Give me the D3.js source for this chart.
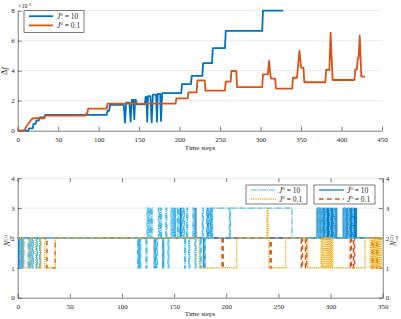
<!DOCTYPE html>
<html><head><meta charset="utf-8">
<script src="https://cdn.jsdelivr.net/npm/d3@7"></script>
<style>
body{margin:0;background:#fff}
svg{display:block}
text{font-family:"Liberation Serif","DejaVu Serif",serif;fill:#262626}
</style></head><body>
<svg id="c" width="401" height="319"></svg>
<script>
// ---------- DATA ----------
const topXTicks = [0,50,100,150,200,250,300,350,400,450];
const topYTicks = [0,2,4,6,8];
const botXTicks = [0,50,100,150,200,250,300,350];
const botYTicks = [0,1,2,3,4];
const legendLabels = ["10","0.1"];

// Top chart: [time step, Δf ×1e-3]
const deltaF_J10 = [[0,0],[13,0],[14,0.16],[18.5,0.16],[19.5,0.45],[22,0.45],[23,0.67],[26,0.67],[27,0.89],[32.5,0.89],[34,1.05],[110,1.05],[111,1.33],[113,1.33],[114,1.72],[131,1.72],[132.5,0.53],[134,1.87],[138,1.87],[139.5,0.6],[141,2.05],[143,2.05],[144,0.76],[145,2.05],[146,2.05],[147,1.75],[157,1.75],[158,2.25],[159,2.25],[160,0.6],[161,2.3],[164,2.3],[165.5,0.55],[167,2.4],[171,2.4],[172,0.6],[173,2.45],[176,2.45],[177,0.65],[178.5,2.5],[202,2.5],[203,3.1],[214,3.1],[215,3.65],[228,3.65],[229,4.5],[240,4.5],[241,5.5],[256,5.5],[257,6.65],[302,6.65],[303,8.0],[328,8.0]];
const deltaF_J01 = [[0,0],[7,0],[9,0.1],[11,0.3],[13,0.45],[15,0.6],[17,0.75],[19,0.83],[33,0.83],[34,1.0],[84,1.0],[85,1.16],[86,1.16],[87,1.47],[110,1.47],[111,1.8],[195,1.8],[196,2.16],[210,2.16],[211,2.56],[221,2.56],[222,3.35],[231,3.35],[232,2.67],[256,2.67],[257,3.27],[263,3.27],[264,3.98],[270,3.98],[271,2.91],[302,2.91],[303,3.76],[309,3.76],[310.5,4.65],[312,3.76],[313,3.47],[318,3.47],[319,2.8],[339,2.8],[340,3.53],[345,3.53],[348,5.33],[350,4.2],[353,4.2],[354,3.23],[380,3.23],[381,4.05],[385,4.05],[386.5,6.53],[389,3.38],[416,3.38],[417,4.09],[419,4.09],[420,4.83],[421,4.83],[422.5,6.33],[424.5,3.6],[429,3.6]];

// Bottom chart: change points [time step, new value]
const N1_J10 = [[0,2],[2,1],[3,2],[5,1],[6,2],[10,1],[11,2],[12,1],[13,2],[14,1],[15,2],[18,1],[19,2],[21,1],[22,2],
 [115,1],[116,2],[117,1],[118,2],[123,1],[124,3],[125,2],[126,3],[127,2],[128,3],[129,2],[131,1],[132,2],[133,1],[134,2],[135,3],[136,2],[137,3],[138,2],[139,1],[140,2],[142,3],[143,2],[144,1],[145,2],[147,3],[148,2],[149,3],[150,2],[151,3],[153,2],[154,3],[155,2],[157,3],[158,2],[159,3],[160,1],[161,2],[162,3],[163,2],[164,1],[165,2],[168,3],[169,2],[170,1],[171,2],[175,1],[176,2],[177,3],[178,2],[179,1],[180,2],[181,3],[182,2],[183,3],[184,2],[185,3],[186,2],[187,3],
 [203,2],[204,3],[263,2],[288,3],[289,2],[291,3],[292,2],[295,3],[296,2],[299,3],[300,2],[303,3],[304,2],[313,3],[314,2],[317,3],[318,2],[321,3],[322,2]];
const N1_J01 = [[0,2],[5,1],[12,2],[17,1],[22,2],[26,1],[36,2],[174,1],[210,2],[239,3],[240,2],[241,1],[257,2],[278,1],[291,2],[292,1],[293,2],[294,1],[295,2],[296,1],[297,2],[298,1],[299,2],[300,1],[301,2],[302,1],[333,2],[338,1],[339,2],[340,1],[341,2],[342,1],[343,2],[344,1],[345,2],[346,1],[347,2],[348,1],[349,2]];
const N2_J10 = [[0,2],[1,1],[2,2],[4,1],[5,2],[116,1],[117,2],[131,1],[132,2],[139,1],[140,2],[150,3],[151,2],[156,3],[157,2],[170,3],[171,2],[178,1],[179,2],[182,3],[183,2],[185,3],[186,2],
 [287,3],[288,2],[289,3],[290,2],[291,3],[292,2],[293,3],[294,2],[295,3],[296,2],[297,3],[298,2],[299,3],[300,2],[301,3],[302,2],[303,3],[304,2],[305,3],[306,2],
 [312,3],[313,2],[314,3],[315,2],[316,3],[317,2],[318,3],[319,2],[320,3],[321,2],[322,3],[323,2],[324,3],[325,2]];
const N2_J01 = [[0,2],[28,1],[36,2],[196,1],[197,2],[242,1],[243,2],[272,1],[273,2],[276,1],[277,2],[319,1],[320,2],[322,1],[323,2],[340,1],[341,2],[344,1],[345,2]];

// ---------- DRAW ----------
const C = {blue:"#0072BD", orange:"#D95319", lblue:"#4DBEEE", yellow:"#EDB120"};
const AX = "#262626", GRID = "#e6e6e6", FONT = '"Liberation Serif","DejaVu Serif",serif';
const svg = d3.select("#c");

function styleAxis(g){
  g.attr("font-family",FONT).attr("font-size",7);
  g.select(".domain").attr("stroke",AX).attr("stroke-width",0.6);
  g.selectAll(".tick line").attr("stroke",AX).attr("stroke-width",0.6);
  g.selectAll(".tick text").attr("fill",AX);
}
function jLabel(sel, x, y, val){
  const t = sel.append("text").attr("x",x).attr("y",y).attr("font-size",7.5);
  t.append("tspan").attr("font-style","italic").text("J");
  t.append("tspan").attr("font-size",5).attr("dy",-3).text("0");
  t.append("tspan").attr("dy",3).text(" = " + val);
}
const fmt = d3.format("d");

// ===== TOP =====
const xT = d3.scaleLinear([0,450],[17.7,382]);
const yT = d3.scaleLinear([0,8],[130.7,10.7]);
svg.append("g").selectAll("line").data(topYTicks.slice(1)).join("line")
  .attr("x1",xT(0)).attr("x2",xT(450)).attr("y1",d=>yT(d)).attr("y2",d=>yT(d))
  .attr("stroke",GRID).attr("stroke-width",0.8);
svg.append("g").attr("transform",`translate(0,${yT(0)})`)
  .call(d3.axisBottom(xT).tickValues(topXTicks).tickFormat(fmt).tickSizeInner(-4).tickSizeOuter(0).tickPadding(6)).call(styleAxis);
svg.append("g").attr("transform",`translate(${xT(0)},0)`)
  .call(d3.axisLeft(yT).tickValues(topYTicks).tickFormat(fmt).tickSizeInner(-4).tickSizeOuter(0).tickPadding(3)).call(styleAxis);

const lineT = d3.line().x(d=>xT(d[0])).y(d=>yT(d[1]));
svg.append("path").attr("d",lineT(deltaF_J10)).attr("fill","none").attr("stroke",C.blue).attr("stroke-width",1.8).attr("stroke-linejoin","round");
svg.append("path").attr("d",lineT(deltaF_J01)).attr("fill","none").attr("stroke",C.orange).attr("stroke-width",1.8).attr("stroke-linejoin","round");

// exponent
const ex = svg.append("text").attr("x",18).attr("y",8).attr("font-size",6);
ex.append("tspan").text("×10");
ex.append("tspan").attr("font-size",4.5).attr("dy",-2.5).text("-3");
// y label
const dl = svg.append("text").attr("transform","translate(7,71) rotate(-90)").attr("text-anchor","middle").attr("font-size",8);
dl.append("tspan").text("Δ"); dl.append("tspan").attr("font-style","italic").text("f");
svg.append("text").attr("x",200).attr("y",149.5).attr("text-anchor","middle").attr("font-size",7).text("Time steps");

// top legend
const lg = svg.append("g");
lg.append("rect").attr("x",24).attr("y",10.7).attr("width",60).attr("height",21.6).attr("fill","#fff").attr("stroke",AX).attr("stroke-width",0.6);
[[C.blue,16.2],[C.orange,25.4]].forEach(([c,y],i)=>{
  lg.append("line").attr("x1",29).attr("x2",53).attr("y1",y).attr("y2",y).attr("stroke",c).attr("stroke-width",1.8);
  jLabel(lg,57,y+2.6,legendLabels[i]);
});

// ===== BOTTOM =====
const xB = d3.scaleLinear([0,350],[17.7,382.7]);
const yB = d3.scaleLinear([0,4],[297.7,178.3]);
svg.append("g").selectAll("line").data(botYTicks.slice(1)).join("line")
  .attr("x1",xB(0)).attr("x2",xB(350)).attr("y1",d=>yB(d)).attr("y2",d=>yB(d))
  .attr("stroke",GRID).attr("stroke-width",0.8);
svg.append("g").attr("transform",`translate(0,${yB(0)})`)
  .call(d3.axisBottom(xB).tickValues(botXTicks).tickFormat(fmt).tickSizeInner(-4).tickSizeOuter(0).tickPadding(6)).call(styleAxis);
const topAx = svg.append("g").attr("transform",`translate(0,${yB(4)})`)
  .call(d3.axisTop(xB).tickValues(botXTicks).tickSizeInner(-4).tickSizeOuter(0).tickFormat(""));
styleAxis(topAx); topAx.select(".domain").attr("stroke",GRID);
svg.append("g").attr("transform",`translate(${xB(0)},0)`)
  .call(d3.axisLeft(yB).tickValues(botYTicks).tickFormat(fmt).tickSizeInner(-4).tickSizeOuter(0).tickPadding(3)).call(styleAxis);
svg.append("g").attr("transform",`translate(${xB(350)},0)`)
  .call(d3.axisRight(yB).tickValues(botYTicks).tickFormat(fmt).tickSizeInner(-4).tickSizeOuter(0).tickPadding(3)).call(styleAxis);

function stepData(arr){ return arr.concat([[350, arr[arr.length-1][1]]]); }
const lineB = d3.line().x(d=>xB(d[0])).y(d=>yB(d[1])).curve(d3.curveStepAfter);
const series = [
  [N2_J01, C.orange, 1.5, "4.5,3.5"],
  [N2_J10, C.blue, 1.0, null],
  [N1_J10, C.lblue, 1.2, "6,1,1,1"],
  [N1_J01, C.yellow, 1.5, "1.2,1"]
];
series.forEach(([d,c,w,da])=>{
  const p = svg.append("path").attr("d",lineB(stepData(d))).attr("fill","none").attr("stroke",c).attr("stroke-width",w);
  if(da) p.attr("stroke-dasharray",da);
});

function nLabel(x,y,sup){
  const g = svg.append("g").attr("transform",`translate(${x},${y}) rotate(-90)`);
  g.append("text").attr("x",-7).attr("y",0).attr("font-size",7.5).attr("font-style","italic").text("N");
  g.append("text").attr("x",-1.5).attr("y",-3).attr("font-size",4.5).text(sup);
  g.append("text").attr("x",-1.5).attr("y",2.2).attr("font-size",4.5).attr("font-style","italic").text("tot");
}
nLabel(10,239,"(1)");
nLabel(396,239,"(2)");
svg.append("text").attr("x",200).attr("y",316).attr("text-anchor","middle").attr("font-size",7).text("Time steps");

// bottom legends
function legendBox(x0, entries){
  const g = svg.append("g");
  g.append("rect").attr("x",x0).attr("y",185).attr("width",61).attr("height",19).attr("fill","#fff").attr("stroke",AX).attr("stroke-width",0.6);
  entries.forEach(([c,w,da],i)=>{
    const y = 190 + i*9;
    const l = g.append("line").attr("x1",x0+5).attr("x2",x0+30).attr("y1",y).attr("y2",y).attr("stroke",c).attr("stroke-width",w);
    if(da) l.attr("stroke-dasharray",da);
    jLabel(g,x0+33,y+2.6,legendLabels[i]);
  });
}
legendBox(246,[[C.lblue,1.2,"6,1,1,1"],[C.yellow,1.5,"1.2,1"]]);
legendBox(314,[[C.blue,1.2,null],[C.orange,1.5,"4.5,3.5"]]);
</script></body></html>
